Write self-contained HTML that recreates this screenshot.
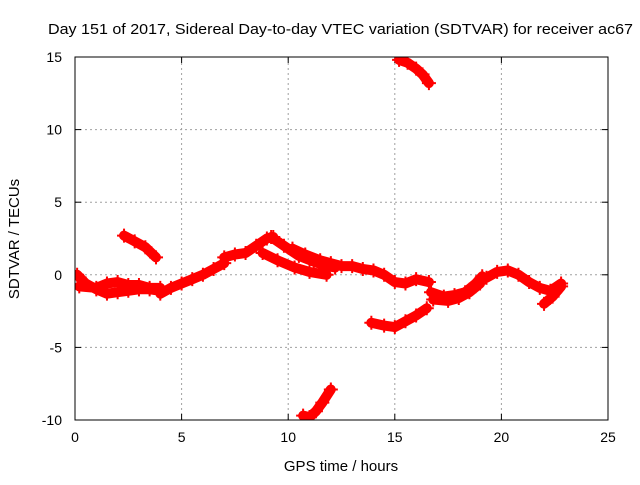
<!DOCTYPE html>
<html><head><meta charset="utf-8"><style>
body{margin:0;background:#fff}
svg text{font-family:"Liberation Sans",sans-serif;font-size:14px;fill:#000}
</style></head><body>
<svg id="chart" width="640" height="480" xmlns="http://www.w3.org/2000/svg">
<text x="48" y="34" textLength="585" lengthAdjust="spacingAndGlyphs" style="font-size:15px">Day 151 of 2017, Sidereal Day-to-day VTEC variation (SDTVAR) for receiver ac67</text>
<text transform="translate(19,239) rotate(-90)" text-anchor="middle" style="font-size:15px">SDTVAR / TECUs</text>
<text x="341" y="471" text-anchor="middle" style="font-size:15px">GPS time / hours</text>
<g id="grid"></g>
<g id="ticks"></g>
<defs><clipPath id="pc"><rect x="75" y="57" width="533" height="363"/></clipPath></defs>
<g id="series" clip-path="url(#pc)"></g>
<rect x="75" y="57" width="533" height="363" fill="none" stroke="#000" stroke-width="1"/>
</svg>
<script>
const xTicks=[0,5,10,15,20,25];
const yTicks=[-10,-5,0,5,10,15];
const tracks=[
[[0.1,0],[0.5,-0.6],[1,-1.0],[1.5,-1.3],[2,-1.2],[2.5,-1.1],[3,-1.0],[3.5,-1.0],[4,-1.1]],
[[0.2,-0.8],[1,-0.9],[1.5,-0.6],[2,-0.5],[2.5,-0.7],[3,-0.7],[3.5,-0.9],[4,-0.9]],
[[2.3,2.7],[2.8,2.3],[3.3,1.9],[3.8,1.2]],
[[4,-1.3],[4.5,-0.9],[5,-0.6],[5.5,-0.3],[6,0],[6.5,0.4],[7,0.8]],
[[7,1.2],[7.5,1.4],[8,1.5],[8.5,2.0],[9,2.5],[9.3,2.6]],
[[9.2,2.6],[9.8,2.0],[10.5,1.3],[11.2,0.9],[11.8,0.6],[12.2,0.5]],
[[8.8,1.5],[9.5,1.0],[10.3,0.5],[11,0.2],[11.8,0.0]],
[[10.2,1.8],[10.8,1.4],[11.5,1.0],[12,0.8],[12.5,0.6],[13,0.6],[13.5,0.4],[14,0.3],[14.5,0],[15,-0.5],[15.5,-0.6],[16,-0.3],[16.6,-0.5]],
[[16.7,-1.2],[17.3,-1.5],[17.8,-1.4],[18.3,-1.2],[18.8,-0.6],[19.1,-0.1]],
[[16.8,-1.7],[17.5,-1.8],[18,-1.6],[18.5,-1.2],[19,-0.6]],
[[19.3,-0.2],[19.8,0.2],[20.3,0.3],[20.8,0],[21.3,-0.5],[21.8,-0.9],[22.3,-1.1],[22.8,-0.6]],
[[22,-2],[22.4,-1.5],[22.8,-0.8]],
[[13.9,-3.3],[14.5,-3.5],[15,-3.6],[15.5,-3.2],[16,-2.8],[16.5,-2.3]],
[[15.2,14.8],[15.6,14.6],[16,14.2],[16.3,13.8],[16.6,13.2]],
[[10.7,-9.7],[11,-9.8],[11.3,-9.4],[11.6,-8.8],[12,-7.9]]
];
const X0=75,X1=608,Y0=420,Y1=57;
const sx=t=>X0+(t-0)/25*(X1-X0);
const sy=v=>Y0-(v+10)/25*(Y0-Y1);
const NS='http://www.w3.org/2000/svg';
function mk(tag,attrs,parent){const e=document.createElementNS(NS,tag);for(const k in attrs)e.setAttribute(k,attrs[k]);parent.appendChild(e);return e;}
const grid=document.getElementById('grid'),ticks=document.getElementById('ticks'),series=document.getElementById('series');
xTicks.forEach(t=>{const x=sx(t);
 if(t>0&&t<25){const g=mk('line',{x1:x,x2:x,y1:Y0,y2:Y1,stroke:'#a0a0a0','stroke-dasharray':'2,3'},grid);}
 mk('line',{x1:x,x2:x,y1:Y0,y2:Y0-6,stroke:'#000'},ticks);mk('line',{x1:x,x2:x,y1:Y1,y2:Y1+6,stroke:'#000'},ticks);
 const l=mk('text',{x:x,y:442,'text-anchor':'middle'},ticks);l.textContent=t;
 
 });
yTicks.forEach(v=>{const y=sy(v);
 if(v>-10&&v<15){const g=mk('line',{x1:X0,x2:X1,y1:y,y2:y,stroke:'#a0a0a0','stroke-dasharray':'2,3'},grid);}
 mk('line',{x1:X0,x2:X0+6,y1:y,y2:y,stroke:'#000'},ticks);mk('line',{x1:X1,x2:X1-6,y1:y,y2:y,stroke:'#000'},ticks);
 const l=mk('text',{x:62,y:y+5,'text-anchor':'end'},ticks);l.textContent=v;
 
 });
tracks.forEach((tr,i)=>{
 const pts=tr.map(p=>sx(p[0]).toFixed(1)+','+sy(p[1]).toFixed(1)).join(' ');
 const pl=mk('polyline',{points:pts,fill:'none',stroke:'#ff0000','stroke-width':10,'stroke-linejoin':'round','stroke-linecap':'round'},series);
 
 
 tr.forEach(p=>{const x=sx(p[0]),y=sy(p[1]);
  const m=mk('path',{d:`M${x-7},${y}h14M${x},${y-7}v14`,stroke:'#ff0000','stroke-width':2},series);
  
  });
});
</script>
</body></html>
